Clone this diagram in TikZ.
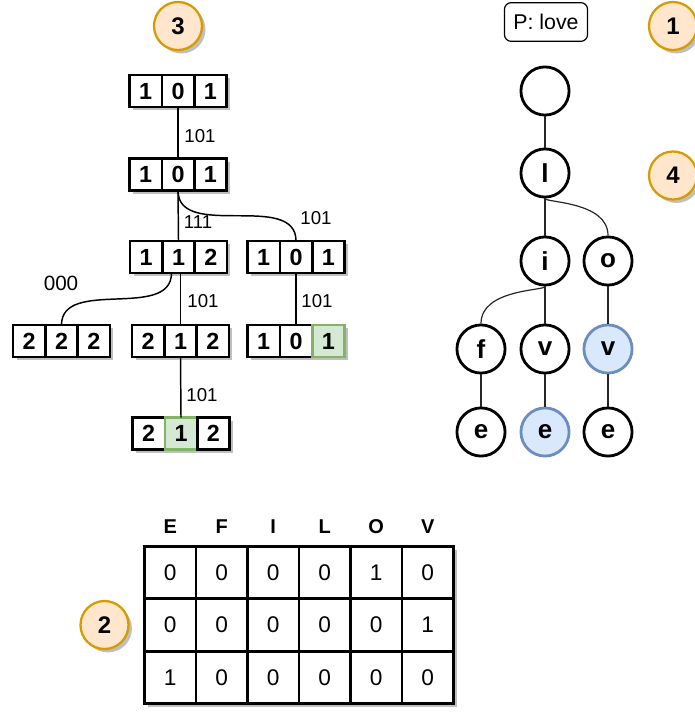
\documentclass[tikz,border=0pt]{standalone}
\usepackage{fontspec}
\setmainfont{Liberation Sans}
\usetikzlibrary{calc,positioning,shadows}
\definecolor{badgefill}{HTML}{FFE6CC}
\definecolor{badgeline}{HTML}{D79B00}
\definecolor{hitfill}{HTML}{D5E8D4}
\definecolor{hitline}{HTML}{82B366}
\definecolor{seenfill}{HTML}{DAE8FC}
\definecolor{seenline}{HTML}{6C8EBF}
\newcommand{\tribox}[3]{%
  \foreach \dg/\st [count=\k] in {#3}
    \node[cell,\st] (#1-\k) at ($(#2)+({(\k-2)*32.3},0)$) {\dg};%
}

\begin{document}
\begin{tikzpicture}[x=0.75pt,y=0.75pt,
  shade/.style={drop shadow={shadow xshift=2.6pt,shadow yshift=-2.6pt,fill=black!25,opacity=1}},
  cell/.style={draw,fill=white,line width=2pt,minimum width=24.2pt,minimum height=24pt,inner sep=0pt,outer sep=0pt,font=\fontsize{17.5}{19}\selectfont\bfseries,shade},
  plain/.style={},
  hit/.style={fill=hitfill,draw=hitline},
  tcell/.style={draw,fill=white,line width=2.2pt,minimum width=38.6pt,minimum height=39.2pt,inner sep=0pt,outer sep=0pt,font=\fontsize{17}{19}\selectfont,shade},
  hdr/.style={font=\fontsize{15}{17}\selectfont\bfseries,inner sep=0pt},
  trie/.style={circle,draw,fill=white,line width=2.1pt,minimum size=36.1pt,inner sep=0pt,font=\fontsize{19.5}{21}\selectfont\bfseries},
  seen/.style={fill=seenfill,draw=seenline},
  badge/.style={circle,draw=badgeline,fill=badgefill,line width=1.7pt,minimum size=36pt,inner sep=0pt,font=\fontsize{18}{20}\selectfont\bfseries,shade},
  link/.style={line width=1.1pt},
  tlink/.style={line width=0.9pt,black!85},
  lbl/.style={font=\fontsize{14}{16}\selectfont,inner sep=0pt}]
\useasboundingbox (0,0) rectangle (694,-712);
% left: search over the counters
\node[badge] (n3) at (178,-26) {3};
\tribox{b1}{178,-91}{1/plain,0/plain,1/plain}
\tribox{b2}{178,-174.5}{1/plain,0/plain,1/plain}
\tribox{b3l}{178.5,-257}{1/plain,1/plain,2/plain}
\tribox{b3r}{296,-257}{1/plain,0/plain,1/plain}
\tribox{b4l}{61.5,-341}{2/plain,2/plain,2/plain}
\tribox{b4m}{180.5,-341}{2/plain,1/plain,2/plain}
\tribox{b4r}{296,-341}{1/plain,0/plain,1/hit}
\tribox{b5}{181,-433.7}{2/plain,1/hit,2/plain}
\draw[link] (b1-2.south) -- (b2-2.north);
\draw[link] (b2-2.south) -- (b3l-2.north);
\draw[link] (b2-2.south) to[out=-90,in=90] (b3r-2.north);
\draw[link] ($(b3l-2.south)+(-7,0)$) to[out=-90,in=90] (b4l-2.north);
\draw[link] (b3l-2.south -| b4m-2.north) -- (b4m-2.north);
\draw[link] (b3r-2.south) -- (b4r-2.north);
\draw[link] (b4m-2.south) -- (b5-2.north);
\node[lbl] (e12) at (200,-136) {101};
\node[lbl] (e23) at (198,-222) {111};
\node[lbl] (e24) at (316,-218) {101};
\node[lbl,font=\fontsize{15.5}{17}\selectfont] (e35) at (61,-283) {000};
\node[lbl] (e36) at (203,-301) {101};
\node[lbl] (e47) at (317,-301) {101};
\node[lbl] (e68) at (202,-395) {101};
% right: trie of the pattern
\node[draw,rounded corners=5pt,line width=0.9pt,minimum width=62.3pt,minimum height=29pt,inner sep=0pt,font=\fontsize{16}{18}\selectfont] (pat) at (546,-22) {P: love};
\node[badge] (n1) at (673,-26) {1};
\node[badge] (n4) at (673,-175.5) {4};
\node[trie] (root) at (545,-91) {};
\node[trie] (tl) at (545,-173) {l};
\node[trie] (ti) at (545,-261) {i};
\node[trie] (to) at (608,-261) {o};
\node[trie] (tf) at (481,-349) {f};
\node[trie] (tv) at (545,-349) {v};
\node[trie,seen] (tov) at (608,-349) {v};
\node[trie] (tfe) at (481,-432) {e};
\node[trie,seen] (tve) at (545,-432) {e};
\node[trie] (tove) at (608,-432) {e};
\draw[tlink] (root) -- (tl);
\draw[tlink] (tl) -- (ti);
\draw[tlink] (tl.south) to[out=-90,in=90,out looseness=0.15,in looseness=1.2] (to.north);
\draw[tlink] (ti.south) to[out=-90,in=90,out looseness=0.15,in looseness=1.2] (tf.north);
\draw[tlink] (ti) -- (tv);
\draw[tlink] (to) -- (tov);
\draw[tlink] (tf) -- (tfe);
\draw[tlink] (tv) -- (tve);
\draw[tlink] (tov) -- (tove);
% bottom: letter table
\node[badge] (n2) at (104.5,-625) {2};
\foreach \h [count=\c] in {E,F,I,L,O,V}
  \node[hdr] (h-\c) at ({118.75+51.5*\c},-527) {\h};
\foreach \row [count=\r] in {{0,0,0,0,1,0},{0,0,0,0,0,1},{1,0,0,0,0,0}}
  \foreach \v [count=\c] in \row
    \node[tcell] (t-\r-\c) at ({118.75+51.5*\c},{-520.35-52.3*\r}) {\v};
\end{tikzpicture}
\end{document}
